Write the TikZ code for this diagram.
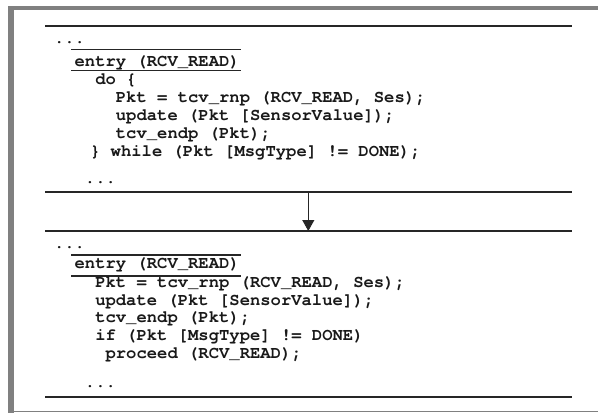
\documentclass[tikz,border=0pt]{standalone}
\usepackage{fontspec}
\setmonofont{TeX Gyre Cursor}
\usetikzlibrary{arrows.meta}
\begin{document}
\begin{tikzpicture}[x=1pt,y=-1pt,
  code/.style={anchor=base west,inner sep=0pt,outer sep=0pt,font=\fontsize{17.2}{18}\selectfont\ttfamily\bfseries,text=black!90},
  rule/.style={line width=2pt,draw=black!85},
  thinrule/.style={line width=1.4pt,draw=black!85},
  framefill/.style={fill=black!50},
  flow/.style={line width=0.9pt,draw=black!85,-{Triangle[length=11pt,width=12pt]}}]
\def\cw{10.32}
\useasboundingbox (0,0) rectangle (598,413);
% frame
\fill[framefill] (8.3,6) rectangle (598,10.3);
\fill[framefill] (8.3,6) rectangle (14,413);
\draw[black!50,line width=1pt] (8.3,411.6) -- (598,411.6);
% top box
\coordinate (t1l) at (45,26); \coordinate (t1r) at (572,26);
\coordinate (t2l) at (45,192); \coordinate (t2r) at (572,192);
\draw[rule] (t1l) -- (t1r);
\draw[rule] (t2l) -- (t2r);
\node[code] (a0) at ({54+0*\cw},43.5) {...};
\node[code] (a1) at ({54+2*\cw},66) {entry (RCV\_READ)};
\draw[thinrule] (71,49.5) -- (241,49.5);
\draw[thinrule] (71,70.7) -- (241,70.7);
\node[code] (a2) at ({54+4*\cw},84) {do \{};
\node[code] (a3) at ({54+6*\cw},102) {Pkt = tcv\_rnp (RCV\_READ, Ses);};
\node[code] (a4) at ({54+6*\cw},120) {update (Pkt [SensorValue]);};
\node[code] (a5) at ({54+6*\cw},138) {tcv\_endp (Pkt);};
\node[code] (a6) at ({54+3.5*\cw},156) {\} while (Pkt [MsgType] != DONE);};
\node[code] (a7) at ({54+3*\cw},183.5) {...};
% arrow
\coordinate (arrS) at (308.3,192);
\coordinate (arrE) at (308.3,231);
\draw[flow] (arrS) -- (arrE);
% bottom box
\coordinate (b1l) at (45,231); \coordinate (b1r) at (572,231);
\coordinate (b2l) at (45,397); \coordinate (b2r) at (572,397);
\draw[rule] (b1l) -- (b1r);
\draw[rule] (b2l) -- (b2r);
\node[code] (c0) at ({54+0*\cw},248.5) {...};
\node[code] (c1) at ({54+2*\cw},268) {entry (RCV\_READ)};
\draw[thinrule] (71,254.8) -- (241,254.8);
\draw[thinrule] (71,276) -- (241,276);
\node[code] (c2) at ({54+4*\cw},287) {Pkt = tcv\_rnp (RCV\_READ, Ses);};
\node[code] (c3) at ({54+4*\cw},305) {update (Pkt [SensorValue]);};
\node[code] (c4) at ({54+4*\cw},322.5) {tcv\_endp (Pkt);};
\node[code] (c5) at ({54+4*\cw},340) {if (Pkt [MsgType] != DONE)};
\node[code] (c6) at ({54+5*\cw},358) {proceed (RCV\_READ);};
\node[code] (c7) at ({54+3*\cw},387.5) {...};
\end{tikzpicture}
\end{document}
